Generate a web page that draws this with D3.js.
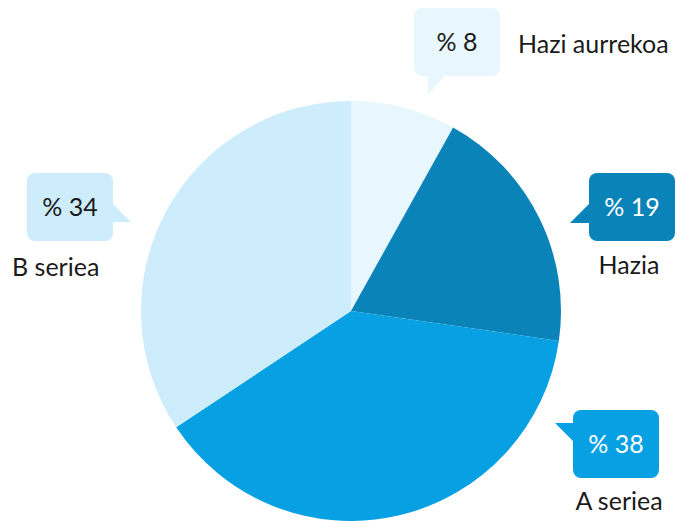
<!DOCTYPE html>
<html>
<head>
<meta charset="utf-8">
<script src="https://cdn.jsdelivr.net/npm/d3@7"></script>
<style>
  html, body { margin: 0; padding: 0; background: #ffffff; }
  svg { display: block; font-family: "Lato", "Open Sans", sans-serif; }
</style>
</head>
<body>
<svg id="chart" width="676" height="521"></svg>
<script>
// Series, clockwise from 12 o'clock
const categories = ["Hazi aurrekoa", "Hazia", "A seriea", "B seriea"];
const values = [8, 19, 38, 34];
const valueLabels = ["% 8", "% 19", "% 38", "% 34"];

const colors = ["#e8f6fd", "#0a83b9", "#06a0e3", "#cdedfd"];
const textColors = ["#1a1a1a", "#ffffff", "#ffffff", "#1a1a1a"];

const W = 676, H = 521;
const cx = 351, cy = 311, R = 210;

const svg = d3.select("#chart");

const pie = d3.pie().sort(null).value(d => d)(values);
const arc = d3.arc().innerRadius(0).outerRadius(R);

const g = svg.append("g").attr("transform", `translate(${cx},${cy})`);
g.selectAll("path.slice")
  .data(pie)
  .join("path")
  .attr("class", "slice")
  .attr("d", arc)
  .attr("fill", (d, i) => colors[i]);

// Callout boxes: box corner, pointer side, and caption placement
const boxW = 86, boxH = 68, rr = 8, tip = 18;
const fontSize = 25;
const callouts = [
  { x: 414, y: 8,   pointer: "bottom", cap: { x: 518, y: 53,  anchor: "start" } },
  { x: 589, y: 173, pointer: "left-bottom", cap: { x: 629, y: 274, anchor: "middle" } },
  { x: 573, y: 410, pointer: "left-top", cap: { x: 619, y: 510, anchor: "middle" } },
  { x: 27,  y: 173, pointer: "right-bottom", cap: { x: 12,  y: 276, anchor: "start" } }
];

function pointerPath(c) {
  const { x, y } = c;
  if (c.pointer === "bottom") {
    const px = x + 14, py = y + boxH - 1;
    return `M${px},${py} L${px + tip},${py} L${px},${py + tip + 1} Z`;
  }
  if (c.pointer === "left-bottom") {
    const px = x + 1, py = y + 50;
    return `M${px},${py - tip - 2} L${px},${py} L${px - tip - 2},${py} Z`;
  }
  if (c.pointer === "left-top") {
    const px = x + 1, py = y + 13;
    return `M${px},${py} L${px},${py + tip + 1} L${px - tip - 1},${py} Z`;
  }
  // right-bottom
  const px = x + boxW - 1, py = y + 49;
  return `M${px},${py - tip - 1} L${px},${py} L${px + tip + 1},${py} Z`;
}

const cg = svg.append("g").attr("class", "callouts");
callouts.forEach((c, i) => {
  cg.append("rect")
    .attr("x", c.x).attr("y", c.y)
    .attr("width", boxW).attr("height", boxH)
    .attr("rx", rr).attr("ry", rr)
    .attr("fill", colors[i]);
  cg.append("path")
    .attr("d", pointerPath(c))
    .attr("fill", colors[i]);
  cg.append("text")
    .attr("x", c.x + boxW / 2)
    .attr("y", c.y + boxH / 2 + 8.5)
    .attr("text-anchor", "middle")
    .attr("font-size", fontSize)
    .attr("fill", textColors[i])
    .text(valueLabels[i]);
  cg.append("text")
    .attr("x", c.cap.x)
    .attr("y", c.cap.y)
    .attr("text-anchor", c.cap.anchor)
    .attr("font-size", fontSize)
    .attr("fill", "#1a1a1a")
    .text(categories[i]);
});
</script>
</body>
</html>
